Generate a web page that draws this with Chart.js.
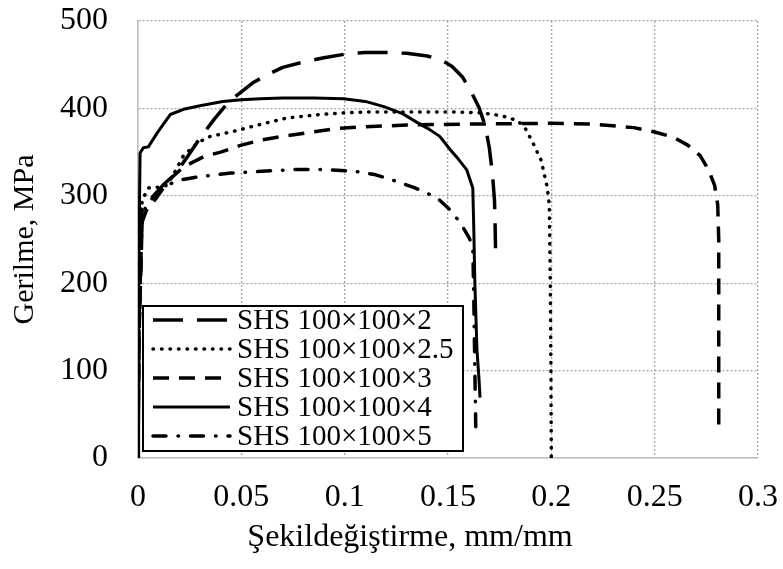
<!DOCTYPE html>
<html><head><meta charset="utf-8">
<script src="https://cdn.jsdelivr.net/npm/chart.js@4/dist/chart.umd.min.js"></script>
<style>html,body{margin:0;padding:0;background:#fff;}</style>
</head><body>
<canvas id="c" width="783" height="569"></canvas>
<script>
const xTickLabels = ["0","0.05","0.1","0.15","0.2","0.25","0.3"];
const yTickLabels = ["0","100","200","300","400","500"];
const xTitle = "Şekildeğiştirme, mm/mm";
const yTitle = "Gerilme, MPa";
const seriesNames = ["SHS 100×100×2","SHS 100×100×2.5","SHS 100×100×3","SHS 100×100×4","SHS 100×100×5"];

const strain2 = [0,0.0005,0.002,0.006,0.012,0.018,0.024,0.03,0.037,0.044,0.05,0.056,0.063,0.07,0.08,0.09,0.1,0.11,0.12,0.13,0.14,0.147,0.152,0.157,0.161,0.165,0.168,0.17,0.1715,0.1725,0.1728,0.173];
const stress2 = [0,150,285,296,312,325,345,366,388,408,419,430,439,447,453,458,462,464,464,463,460,455,448,436,420,401,380,355,325,295,265,240];

const strain25 = [0,0.0005,0.002,0.005,0.01,0.014,0.018,0.022,0.029,0.035,0.045,0.058,0.072,0.088,0.1,0.112,0.13,0.15,0.166,0.175,0.18,0.184,0.187,0.191,0.195,0.198,0.199,0.1995,0.1998,0.2];
const stress25 = [0,150,295,309,310,312,328,346,361,368,373,381,389,393,395,396,396,396,395,392,389,385,379,361,341,310,290,200,100,0];

const strain3 = [0,0.0005,0.002,0.004,0.009,0.015,0.022,0.032,0.04,0.05,0.06,0.07,0.082,0.096,0.11,0.13,0.16,0.2,0.22,0.24,0.25,0.259,0.266,0.272,0.276,0.279,0.2805,0.281,0.281,0.281];
const stress3 = [0,140,270,283,298,318,333,345,350,358,364,368,372,377,379,381,382,383,382,378,373,367,358,346,330,312,290,250,120,29];

const strain4 = [0,0.0003,0.001,0.0026,0.005,0.0093,0.0156,0.022,0.03,0.041,0.05,0.059,0.07,0.085,0.0995,0.11,0.119,0.128,0.135,0.141,0.146,0.151,0.155,0.159,0.162,0.1625,0.163,0.164,0.165,0.1655];
const stress4 = [0,200,349,355,356,372,393,399,403,408,410,411,412,412,411,408,402,394,384,376,368,353,342,330,309,260,200,124,90,69];

const strain5 = [0,0.0005,0.002,0.006,0.012,0.02,0.03,0.045,0.06,0.075,0.09,0.105,0.115,0.122,0.128,0.134,0.14,0.146,0.151,0.156,0.16,0.162,0.1625,0.163,0.1635];
const stress5 = [0,140,280,295,310,318,322,326,328,330,330,328,324,319,314,309,303,295,284,269,253,242,180,100,25];

const pts = (xs, ys) => xs.map((x, i) => ({x: x, y: ys[i]}));

const styles = [
  {dash:[30,14], cap:'butt', w:3.5},
  {dash:[0.5,8], cap:'round', w:3.5},
  {dash:[16,10], cap:'butt', w:3.5},
  {dash:[], cap:'butt', w:3},
  {dash:[13,12,0.5,12], cap:'round', w:3.5}
];
const allData = [pts(strain2,stress2), pts(strain25,stress25), pts(strain3,stress3), pts(strain4,stress4), pts(strain5,stress5)];

const datasets = allData.map((d, i) => ({
  label: seriesNames[i],
  data: d,
  showLine: true,
  borderColor: '#000',
  backgroundColor: '#000',
  borderWidth: styles[i].w,
  borderDash: styles[i].dash,
  borderCapStyle: styles[i].cap,
  borderJoinStyle: 'round',
  pointRadius: 0,
  tension: 0,
  fill: false
}));

const FONT = "'Liberation Serif', 'Times New Roman', serif";

const legendPlugin = {
  id: 'customLegend',
  afterDatasetsDraw(chart) {
    const ctx = chart.ctx;
    const x0 = 143, y0 = 306, x1 = 463, y1 = 451;
    ctx.save();
    ctx.fillStyle = '#fff';
    ctx.fillRect(x0, y0, x1 - x0, y1 - y0);
    ctx.strokeStyle = '#000';
    ctx.lineWidth = 2;
    ctx.setLineDash([]);
    ctx.strokeRect(x0, y0, x1 - x0, y1 - y0);
    const rowY = [320, 349, 378, 407, 436];
    for (let i = 0; i < seriesNames.length; i++) {
      const st = styles[i];
      ctx.beginPath();
      ctx.setLineDash(st.dash);
      ctx.lineCap = st.cap;
      ctx.lineWidth = st.w;
      ctx.strokeStyle = '#000';
      ctx.moveTo(153, rowY[i]);
      ctx.lineTo(230, rowY[i]);
      ctx.stroke();
      ctx.setLineDash([]);
      ctx.fillStyle = '#000';
      ctx.font = "29px " + FONT;
      ctx.textBaseline = 'middle';
      ctx.textAlign = 'left';
      ctx.fillText(seriesNames[i], 237, rowY[i] + 1);
    }
    // x-axis title, centred where the reference places it
    ctx.font = "32px " + FONT;
    ctx.textAlign = 'center';
    ctx.textBaseline = 'middle';
    ctx.fillStyle = '#000';
    ctx.fillText(xTitle, 410, 538);
    ctx.restore();
  }
};

new Chart(document.getElementById('c'), {
  type: 'scatter',
  data: { datasets: datasets },
  plugins: [legendPlugin],
  options: {
    responsive: false,
    devicePixelRatio: 1,
    animation: false,
    layout: { padding: { top: 21, right: 25, left: 0, bottom: 0 } },
    plugins: { legend: { display: false }, tooltip: { enabled: false } },
    scales: {
      x: {
        type: 'linear', min: 0, max: 0.3,
        afterFit: (s) => { s.height = 111; s.paddingLeft = 0; s.paddingRight = 0; },
        ticks: {
          stepSize: 0.05,
          color: '#000',
          font: { family: FONT, size: 32 },
          padding: 20,
          maxRotation: 0,
          callback: (v) => xTickLabels[Math.round(v / 0.05)]
        },
        grid: { color: '#a6a6a6', lineWidth: 1.3, drawTicks: false },
        border: { display: true, color: '#bdbdbd', width: 1.5, dash: [2, 2] },
        title: { display: false, text: xTitle }
      },
      y: {
        type: 'linear', min: 0, max: 500,
        afterFit: (s) => { s.width = 138; s.paddingTop = 0; s.paddingBottom = 0; },
        ticks: {
          stepSize: 100,
          color: '#000',
          font: { family: FONT, size: 32 },
          padding: 30,
          callback: (v) => yTickLabels[Math.round(v / 100)]
        },
        grid: { color: '#a6a6a6', lineWidth: 1.3, drawTicks: false },
        border: { display: true, color: '#bdbdbd', width: 1.5, dash: [2, 2] },
        title: { display: true, text: yTitle, color: '#000', font: { family: FONT, size: 30 }, padding: { top: 7, bottom: 0 } }
      }
    }
  }
});
</script>
</body></html>
